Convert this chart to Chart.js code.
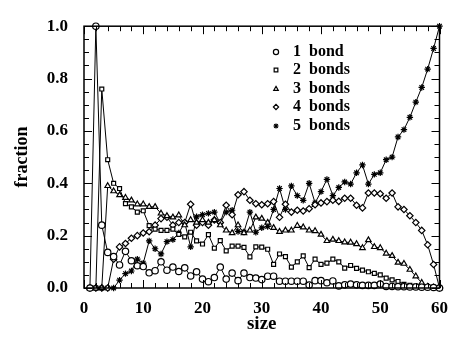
<!DOCTYPE html>
<html>
<head>
<meta charset="utf-8">
<script src="https://cdn.jsdelivr.net/npm/chart.js@4.4.1/dist/chart.umd.min.js"></script>
<style>
  html, body { margin: 0; padding: 0; background: #fff; }
</style>
</head>
<body>
<canvas id="fracChart" width="458" height="337"></canvas>
<script>
// cluster size (x) and fraction of particles with n bonds (y)
const sizes = [1,2,3,4,5,6,7,8,9,10,11,12,13,14,15,16,17,18,19,20,
  21,22,23,24,25,26,27,28,29,30,31,32,33,34,35,36,37,38,39,40,
  41,42,43,44,45,46,47,48,49,50,51,52,53,54,55,56,57,58,59,60];

const bond1 = [0,1.0,0.24,0.136,0.12,0.088,0.14,0.104,0.085,0.082,
  0.058,0.066,0.10,0.068,0.08,0.063,0.077,0.046,0.062,0.034,
  0.024,0.04,0.08,0.034,0.057,0.028,0.057,0.04,0.038,0.032,
  0.045,0.045,0.026,0.026,0.026,0.026,0.026,0.011,0.028,0.028,
  0.02,0.027,0.008,0.012,0.015,0.012,0.01,0.01,0.01,0.015,
  0.006,0.006,0.005,0.005,0.004,0.004,0.003,0.003,0.002,0];

const bond2 = [0,0,0.76,0.49,0.40,0.38,0.322,0.31,0.29,0.295,
  0.238,0.225,0.22,0.22,0.225,0.205,0.195,0.213,0.18,0.168,
  0.204,0.152,0.181,0.142,0.16,0.16,0.155,0.119,0.157,0.156,
  0.148,0.09,0.13,0.12,0.08,0.1,0.123,0.078,0.11,0.09,
  0.095,0.11,0.1,0.076,0.086,0.075,0.068,0.062,0.056,0.05,
  0.038,0.031,0.025,0.014,0.01,0.007,0.005,0.004,0.002,0];

const bond3 = [0,0,0,0.39,0.37,0.355,0.345,0.335,0.32,0.32,
  0.31,0.31,0.285,0.275,0.27,0.278,0.24,0.26,0.25,0.26,
  0.25,0.26,0.24,0.22,0.21,0.24,0.21,0.22,0.27,0.265,
  0.25,0.23,0.215,0.22,0.22,0.238,0.232,0.22,0.218,0.204,
  0.18,0.185,0.18,0.175,0.174,0.168,0.153,0.183,0.157,0.153,
  0.132,0.123,0.097,0.093,0.07,0.045,0.02,0.005,0.002,0];

const bond4 = [0,0,0,0,0.11,0.157,0.17,0.19,0.20,0.21,
  0.215,0.24,0.265,0.27,0.24,0.25,0.25,0.32,0.24,0.25,
  0.24,0.26,0.25,0.316,0.28,0.356,0.368,0.335,0.322,0.318,
  0.322,0.33,0.27,0.32,0.29,0.297,0.294,0.303,0.318,0.325,
  0.33,0.335,0.331,0.343,0.343,0.316,0.306,0.363,0.363,0.36,
  0.343,0.363,0.31,0.30,0.276,0.25,0.22,0.165,0.09,0];

const bond5 = [0,0,0,0,0,0.03,0.055,0.065,0.11,0.095,
  0.18,0.15,0.13,0.177,0.185,0.21,0.25,0.157,0.272,0.28,
  0.285,0.29,0.248,0.29,0.297,0.216,0.214,0.29,0.213,0.23,
  0.235,0.30,0.38,0.30,0.39,0.353,0.335,0.40,0.325,0.368,
  0.415,0.353,0.384,0.405,0.397,0.44,0.47,0.397,0.434,0.44,
  0.49,0.50,0.577,0.605,0.652,0.71,0.766,0.836,0.915,1.0];

const seriesNums = ['1', '2', '3', '4', '5'];
const seriesWords = ['bond', 'bonds', 'bonds', 'bonds', 'bonds'];
const markers = ['circle', 'rect', 'triangle', 'rectRot', 'star'];
const allSeries = [bond1, bond2, bond3, bond4, bond5];

const serif = "'Liberation Serif', 'Times New Roman', serif";

function toPoints(vals) {
  return sizes.map((s, i) => ({ x: s, y: vals[i] }));
}

const datasets = allSeries.map((vals, i) => ({
  label: seriesNums[i] + ' ' + seriesWords[i],
  data: toPoints(vals),
  borderColor: '#000',
  borderWidth: 1,
  pointStyle: markers[i],
  pointRadius: markers[i] === 'rect' ? 2.8 : 3.2,
  pointBackgroundColor: '#fff',
  pointBorderColor: '#000',
  pointBorderWidth: 1.2,
  tension: 0,
  clip: false
}));

// box, inward tick marks on all four sides, and the legend inside the plot
const framePlugin = {
  id: 'framePlugin',
  afterDatasetsDraw(chart) {
    const { ctx, chartArea: a, scales: { x, y } } = chart;
    ctx.save();
    ctx.strokeStyle = '#000';
    ctx.lineWidth = 1.5;
    ctx.strokeRect(a.left, a.top, a.right - a.left, a.bottom - a.top);

    ctx.lineWidth = 1;
    ctx.beginPath();
    for (let v = x.min; v <= x.max; v += 2) {
      const px = Math.round(x.getPixelForValue(v)) + 0.5;
      const len = v % 10 === 0 ? 8 : 5;
      ctx.moveTo(px, a.bottom); ctx.lineTo(px, a.bottom - len);
      ctx.moveTo(px, a.top); ctx.lineTo(px, a.top + len);
    }
    for (let k = 0; k <= 20; k++) {
      const v = k * 0.05;
      const py = Math.round(y.getPixelForValue(v)) + 0.5;
      const len = k % 4 === 0 ? 8 : 5;
      ctx.moveTo(a.left, py); ctx.lineTo(a.left + len, py);
      ctx.moveTo(a.right, py); ctx.lineTo(a.right - len, py);
    }
    ctx.stroke();

    // legend
    const rowY = [52, 70, 89, 107, 126];
    ctx.fillStyle = '#000';
    ctx.font = 'bold 16px ' + serif;
    ctx.textBaseline = 'middle';
    chart.data.datasets.forEach((ds, i) => {
      ctx.save();
      ctx.fillStyle = '#fff';
      ctx.strokeStyle = '#000';
      ctx.lineWidth = 1.2;
      Chart.helpers.drawPoint(ctx, { pointStyle: ds.pointStyle, radius: 2.6, borderWidth: 1.2, rotation: 0 }, 276, rowY[i]);
      ctx.restore();
      ctx.fillText(seriesNums[i], 293, rowY[i]);
      ctx.fillText(seriesWords[i], 309, rowY[i]);
    });
    ctx.restore();
  }
};

const ctx = document.getElementById('fracChart').getContext('2d');

new Chart(ctx, {
  type: 'line',
  data: { datasets },
  options: {
    responsive: false,
    animation: false,
    devicePixelRatio: 1,
    layout: { padding: { left: 0, right: 8, top: 20, bottom: 0 } },
    plugins: { legend: { display: false }, tooltip: { enabled: false } },
    scales: {
      x: {
        type: 'linear',
        min: 0,
        max: 60,
        grid: { display: false, drawTicks: false },
        border: { display: false },
        ticks: { stepSize: 10, color: '#000', padding: 10, maxRotation: 0,
                 font: { family: serif, size: 17, weight: 'bold' } },
        title: { display: true, text: 'size', color: '#000',
                 font: { family: serif, size: 19, weight: 'bold' },
                 padding: { top: 0, bottom: 2 } },
        afterFit(scale) { scale.height = 49; }
      },
      y: {
        min: 0,
        max: 1,
        grid: { display: false, drawTicks: false },
        border: { display: false },
        ticks: { stepSize: 0.2, color: '#000', padding: 16,
                 font: { family: serif, size: 17, weight: 'bold' },
                 callback: v => v.toFixed(1) },
        title: { display: true, text: 'fraction', color: '#000',
                 font: { family: serif, size: 18, weight: 'bold' },
                 padding: { top: 12, bottom: 0 } },
        afterFit(scale) { scale.width = 84; }
      }
    }
  },
  plugins: [framePlugin]
});
</script>
</body>
</html>
